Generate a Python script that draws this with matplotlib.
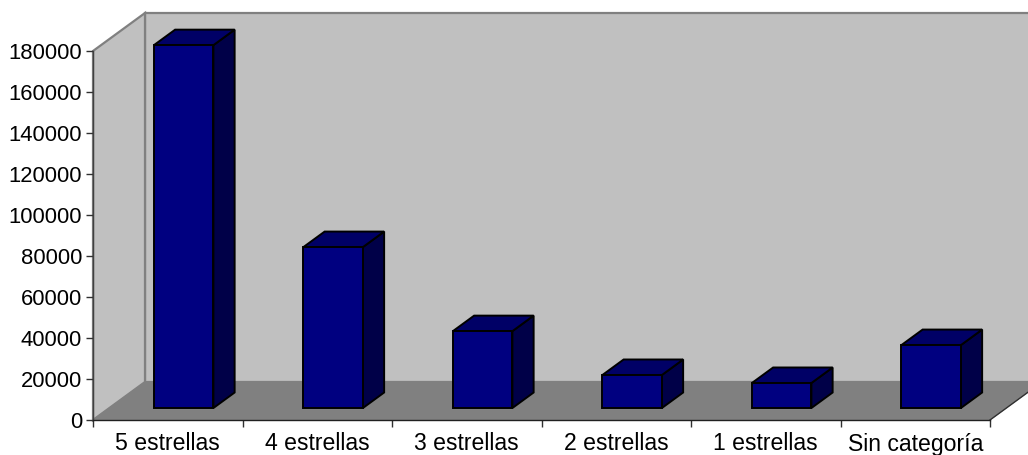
import matplotlib
matplotlib.use("Agg")
import matplotlib.pyplot as plt
from matplotlib.patches import Polygon

plt.rcParams["font.family"] = ["Liberation Sans", "DejaVu Sans"]

categories = ["5 estrellas", "4 estrellas", "3 estrellas", "2 estrellas", "1 estrellas", "Sin categoría"]
values = [177000, 78500, 37500, 16100, 12200, 30700]
y_ticks = list(range(0, 180001, 20000))

W, H = 1028, 455
L, R, T, B = 93, 990, 51, 420
fig = plt.figure(figsize=(W / 100, H / 100), dpi=100, facecolor="white")
ax = fig.add_axes([L / W, 1 - B / H, (R - L) / W, (B - T) / H])
ax.set_xlim(0, len(categories))
ax.set_ylim(0, 180000)
ax.patch.set_visible(False)

# oblique projection: depth 0..1 shifts right and up, expressed in axis units
ux = (R - L) / len(categories)
uy = (B - T) / 180000
DX, DY = 52 / ux, 38 / uy


def proj(x, v, d):
    return (x + d * DX, v + d * DY)


def face(pts, fc, ec, lw=1.4, z=1):
    ax.add_patch(Polygon([proj(*p) for p in pts], closed=True, facecolor=fc, edgecolor=ec,
                         linewidth=lw, clip_on=False, zorder=z, joinstyle="miter"))


n = len(categories)
wall_right = n + 1  # runs past the figure edge
# back wall
face([(0, 0, 1), (wall_right, 0, 1), (wall_right, 180000, 1), (0, 180000, 1)], "#C0C0C0", "#808080", 1.6, 1)
# side wall
face([(0, 0, 0), (0, 0, 1), (0, 180000, 1), (0, 180000, 0)], "#C0C0C0", "#808080", 1.6, 1.1)
# floor
face([(0, 0, 0), (n, 0, 0), (n, 0, 1), (0, 0, 1)], "#808080", "#808080", 0.5, 1.2)
# the floor continues to the figure edge behind the slanted front-right edge
face([(n, 0, 1), (wall_right, 0, 1), (wall_right, 0, 0.9), (n, 0, 0.9)], "#808080", "#808080", 0.5, 1.2)
# floor right edge
ax.plot(*zip(proj(n, 0, 0), proj(n, 0, 1)), color="#303030", lw=1.0, clip_on=False, zorder=1.3)

bar_w = 59.5 / ux
d0, d1 = 12 / 38, 27.5 / 38
shift = -0.5 / ux
for i, v in enumerate(values):
    x0 = i + 0.5 - bar_w / 2 + shift
    x1 = i + 0.5 + bar_w / 2 + shift
    z = 2 + i
    face([(x1, 0, d0), (x1, 0, d1), (x1, v, d1), (x1, v, d0)], "#000048", "black", 1.4, z)
    face([(x0, v, d0), (x1, v, d0), (x1, v, d1), (x0, v, d1)], "#000066", "black", 1.4, z)
    face([(x0, 0, d0), (x1, 0, d0), (x1, v, d0), (x0, v, d0)], "#000080", "black", 1.4, z + 0.1)

for s in ("top", "right"):
    ax.spines[s].set_visible(False)
ax.spines["left"].set_color("#404040")
ax.spines["left"].set_linewidth(1.0)
ax.spines["bottom"].set_color("#202020")
ax.spines["bottom"].set_linewidth(1.0)
ax.spines["left"].set_zorder(20)
ax.spines["bottom"].set_zorder(20)

ax.set_yticks(y_ticks)
ax.set_yticklabels([str(t) for t in y_ticks], fontsize=15.8, color="black")
ax.set_xticks(range(n + 1))
ax.set_xticklabels([""] * (n + 1))
ax.set_xticks([i + 0.5 for i in range(n)], labels=categories, minor=True, fontsize=16.6)
ax.tick_params(axis="x", which="major", length=5, width=1, color="#303030", direction="out")
ax.tick_params(axis="x", which="minor", length=0, pad=9)
ax.tick_params(axis="y", length=5, width=1, color="#303030", pad=3)

fig.savefig("out.png", dpi=100, facecolor="white")
